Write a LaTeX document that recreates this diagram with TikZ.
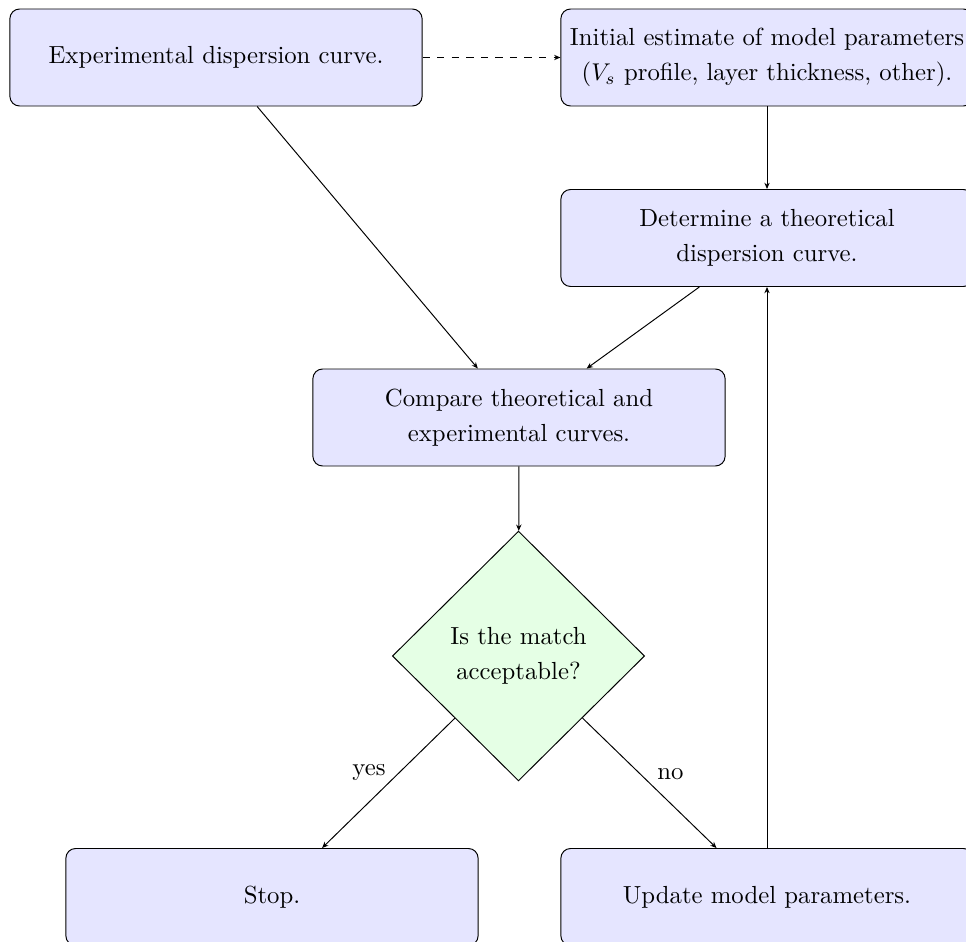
\documentclass[tikz,border=0pt]{standalone}
\usetikzlibrary{shapes.geometric,arrows.meta}
\begin{document}
\begin{tikzpicture}[x=0.41237pt,y=-0.41237pt,
  every node/.style={font=\fontsize{10.2pt}{14.5pt}\selectfont},
  box/.style={draw, rounded corners=4pt, fill=blue!10, minimum width=170pt, minimum height=40pt, align=center, inner sep=2pt},
  decision/.style={draw, diamond, fill=green!10, minimum width=104pt, minimum height=103pt, inner sep=0pt, align=center},
  conn/.style={-{Stealth[length=2.6pt,width=2.2pt]}, line width=0.4pt},
  lbl/.style={inner sep=1pt}]
\useasboundingbox (0,0) rectangle (966,942);
\node[box] (exp) at (216,57.5) {Experimental dispersion curve.};
\node[box] (init) at (767,57.5) {Initial estimate of model parameters\\($V_s$ profile, layer thickness, other).};
\node[box] (det) at (767,238) {Determine a theoretical\\dispersion curve.};
\node[box] (cmp) at (519,417.5) {Compare theoretical and\\experimental curves.};
\node[decision] (dec) at (518.5,656) {Is the match\\acceptable?};
\node[box] (stop) at (272,897) {Stop.};
\node[box] (upd) at (767,897) {Update model parameters.};
\draw[conn, dashed] (exp) -- (init);
\draw[conn] (init) -- (det);
\draw[conn] (exp) -- (cmp);
\draw[conn] (det) -- (cmp);
\draw[conn] (cmp) -- (dec);
\draw[conn] (dec) -- node[lbl, pos=0.5, above left] {yes} (stop);
\draw[conn] (dec) -- node[lbl, pos=0.5, above right, xshift=2pt] {no} (upd);
\draw[conn] (upd) -- (det);
\end{tikzpicture}
\end{document}
